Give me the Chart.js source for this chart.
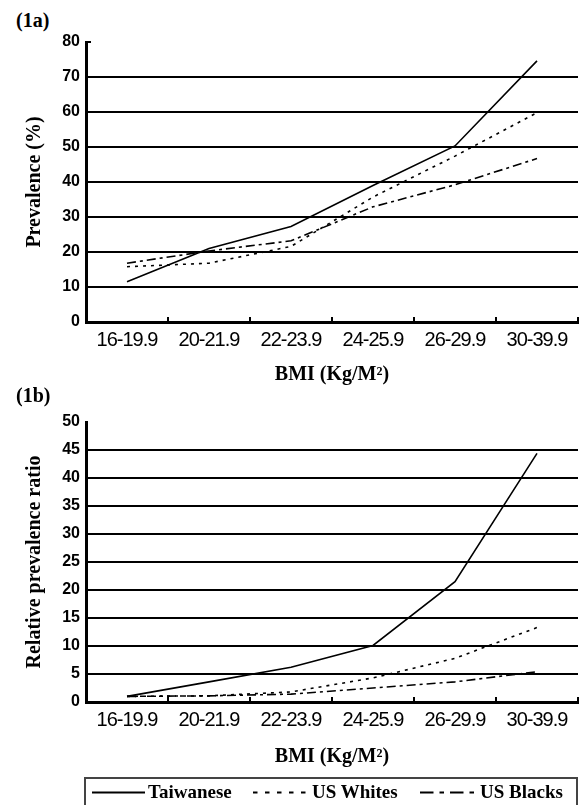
<!DOCTYPE html>
<html>
<head>
<meta charset="utf-8">
<script src="https://cdn.jsdelivr.net/npm/chart.js@4.4.0/dist/chart.umd.min.js"></script>
<style>
  body { margin: 0; background: #fff; width: 579px; height: 805px; position: relative; overflow: hidden; }
  .panel { position: absolute; left: 0; width: 579px; }
  .tag { position: absolute; left: 16px; font: bold 20px "Liberation Serif", serif; }
  #legend { position: absolute; left: 84px; top: 777px; width: 490px; height: 26px;
            border: 2px solid #444; font: bold 19px "Liberation Serif", serif; }
  #legend .item { position: absolute; top: 0; height: 26px; line-height: 26px; }
  #legend svg { position: absolute; top: 12px; }
</style>
</head>
<body>
<div class="tag" style="top:9px">(1a)</div>
<div class="panel" style="top:0;height:387px"><canvas id="chartA"></canvas></div>
<div class="tag" style="top:384px">(1b)</div>
<div class="panel" style="top:380px;height:389px"><canvas id="chartB"></canvas></div>
<div id="legend"></div>

<script>
// BMI groups
const categories = ["16-19.9", "20-21.9", "22-23.9", "24-25.9", "26-29.9", "30-39.9"];
const seriesNames = ["Taiwanese", "US Whites", "US Blacks"];

// (1a) prevalence, %
const prevTaiwanese = [11.5, 21.0, 27.3, 39.0, 50.3, 74.6];
const prevWhites    = [15.8, 16.8, 21.6, 35.7, 47.4, 59.8];
const prevBlacks    = [16.8, 20.3, 23.2, 32.9, 39.2, 46.7];

// (1b) relative prevalence ratio
const ratioTaiwanese = [1.0, 3.6, 6.2, 10.1, 21.5, 44.4];
const ratioWhites    = [1.0, 1.1, 1.8, 4.3, 7.8, 13.3];
const ratioBlacks    = [1.0, 1.1, 1.4, 2.5, 3.6, 5.4];

// y axis ticks
const prevMax = 80, prevStep = 10;
const ratioMax = 50, ratioStep = 5;

const dashes = [[], [3, 5], [9, 4, 3, 4]];

// small tick marks on the x axis between groups (and the stub at the top of 1a)
const tickMarks = {
  id: "tickMarks",
  afterUpdate(chart) {
    // narrow look for the category labels
    const xs = chart.scales.x;
    if (!xs._narrow) {
      const orig = xs.drawLabels;
      xs.drawLabels = function (area) {
        const ctx = this.ctx;
        ctx.save();
        ctx.letterSpacing = "-1px";
        orig.call(this, area);
        ctx.restore();
      };
      xs._narrow = true;
    }
  },
  afterDraw(chart, args, opts) {
    const { ctx, scales: { x, y } } = chart;
    ctx.save();
    ctx.strokeStyle = "#000";
    ctx.lineWidth = 2;
    ctx.beginPath();
    for (let i = 0; i < categories.length; i++) {
      const px = x.getPixelForValue(i + 0.5);
      ctx.moveTo(px, y.bottom);
      ctx.lineTo(px, y.bottom - 5);
    }
    if (opts.topStub) {
      const ty = y.getPixelForValue(y.max);
      ctx.moveTo(x.left, ty);
      ctx.lineTo(x.left + 5, ty);
    }
    ctx.stroke();
    ctx.restore();
  }
};

function makeChart(id, values, yMax, yStep, yTitle, xHeight, topStub) {
  return new Chart(document.getElementById(id), {
    type: "line",
    data: {
      labels: categories,
      datasets: values.map((v, i) => ({
        label: seriesNames[i],
        data: v,
        borderColor: "#000",
        borderWidth: 1.6,
        borderDash: dashes[i],
        pointRadius: 0,
        tension: 0,
        fill: false
      }))
    },
    options: {
      responsive: true,
      maintainAspectRatio: false,
      animation: false,
      layout: { padding: { top: 42, right: 1, left: 0, bottom: 0 } },
      plugins: {
        legend: { display: false },
        tooltip: { enabled: false },
        tickMarks: { topStub: topStub }
      },
      scales: {
        x: {
          offset: true,
          grid: { display: false, drawTicks: false },
          border: { display: true, color: "#000", width: 3 },
          ticks: {
            color: "#000",
            padding: 6,
            maxRotation: 0,
            font: { family: "'Liberation Sans Narrow', 'Liberation Sans', sans-serif", size: 20 }
          },
          title: {
            display: true,
            text: "BMI (Kg/M\u00B2)",
            color: "#000",
            padding: 0,
            font: { family: "'Liberation Serif', serif", size: 20, weight: "bold" }
          },
          afterFit: s => { s.height = xHeight; }
        },
        y: {
          min: 0,
          max: yMax,
          ticks: {
            stepSize: yStep,
            color: "#000",
            padding: 6,
            font: { family: "'Liberation Sans', Arial, sans-serif", size: 16, weight: "bold" }
          },
          grid: {
            drawTicks: false,
            lineWidth: 2,
            color: c => (c.tick && c.tick.value === yMax ? "rgba(0,0,0,0)" : "#000")
          },
          border: { display: true, color: "#000", width: 3 },
          title: {
            display: true,
            text: yTitle,
            color: "#000",
            padding: { top: 23, bottom: 0 },
            font: { family: "'Liberation Serif', serif", size: 20, weight: "bold" }
          },
          afterFit: s => { s.width = 86; }
        }
      }
    },
    plugins: [tickMarks]
  });
}

makeChart("chartA", [prevTaiwanese, prevWhites, prevBlacks], prevMax, prevStep, "Prevalence (%)", 65, true);
makeChart("chartB", [ratioTaiwanese, ratioWhites, ratioBlacks], ratioMax, ratioStep, "Relative prevalence ratio", 67, false);

// legend with line samples
const legendPos = [
  { line: 6, w: 53, text: 62 },
  { line: 167, w: 57, text: 226 },
  { line: 334, w: 59, text: 394 }
];
const legend = document.getElementById("legend");
seriesNames.forEach((name, i) => {
  const p = legendPos[i];
  const svg = document.createElementNS("http://www.w3.org/2000/svg", "svg");
  svg.setAttribute("width", p.w);
  svg.setAttribute("height", 3);
  svg.style.left = p.line + "px";
  const ln = document.createElementNS("http://www.w3.org/2000/svg", "line");
  ln.setAttribute("x1", 0); ln.setAttribute("x2", p.w);
  ln.setAttribute("y1", 1.5); ln.setAttribute("y2", 1.5);
  ln.setAttribute("stroke", "#000");
  ln.setAttribute("stroke-width", 2);
  if (dashes[i].length) ln.setAttribute("stroke-dasharray", dashes[i].map(d => d * 1.5).join(" "));
  svg.appendChild(ln);
  legend.appendChild(svg);
  const t = document.createElement("div");
  t.className = "item";
  t.style.left = p.text + "px";
  t.textContent = name;
  legend.appendChild(t);
});
</script>
</body>
</html>
